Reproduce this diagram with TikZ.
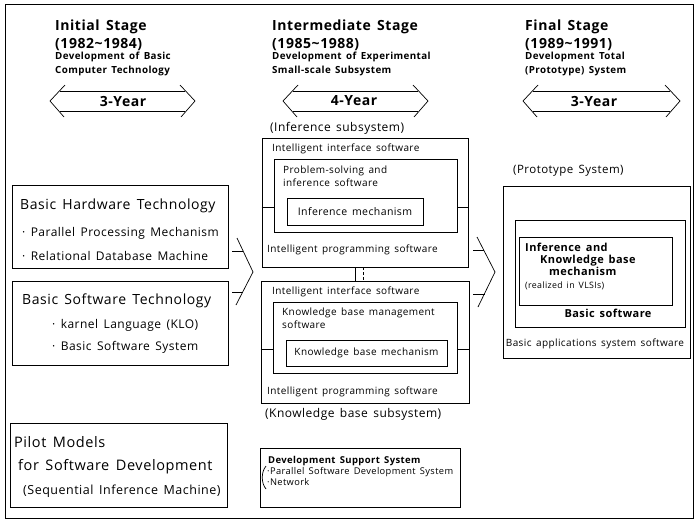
\documentclass[tikz,border=0pt]{standalone}
\usepackage{fontspec}
\setmainfont{Open Sans}[WordSpace=1.5, LetterSpace=4]
\usepackage{tikz}
\usetikzlibrary{fit}
\tikzset{box/.style={draw, line width=0.9pt, inner sep=0pt}}
\tikzset{thin line/.style={line width=0.7pt}}
\tikzset{txt/.style={anchor=base west, inner sep=0pt}}
\tikzset{ctxt/.style={anchor=base, inner sep=0pt}}
\newcommand{\fs}[1]{\fontsize{#1}{#1}\selectfont}
\newcommand{\yeararrow}[2]{%
	\draw[thin line] (#1+15,85) -- (#1,101) -- (#1+14,117);
	\draw[thin line] (#2-15,85) -- (#2,101) -- (#2-14,117);
	\draw[thin line] (#1+10,91) -- (#2-10,91);
	\draw[thin line] (#1+10,111) -- (#2-10,111);}

\begin{document}
\begin{tikzpicture}[x=1pt, y=-1pt]
	% Default action for each node
	\tikzstyle{stage}=[txt, font=\fs{14}\bfseries];
	\tikzstyle{stagesub}=[txt, font=\fs{9.8}\bfseries];
	\tikzstyle{year}=[anchor=center, inner sep=0pt, font=\fs{14}\bfseries];
	\tikzstyle{title}=[txt, font=\fs{14}];
	\tikzstyle{item}=[txt, font=\fs{12}];
	\tikzstyle{small}=[txt, font=\fs{10}];

	\useasboundingbox (0,0) rectangle (696,522);
	\draw[thin line] (5,4) rectangle (693,518);

	% STAGES
	\node[stage] (initial) at (55,30) {Initial Stage};
	\node[stage] (initialyr) at (55,48) {(1982\textasciitilde1984)};
	\node[stagesub] (initiala) at (55,59) {Development of Basic};
	\node[stagesub] (initialb) at (55,73) {Computer Technology};

	\node[stage] (inter) at (272,30) {Intermediate Stage};
	\node[stage] (interyr) at (272,48) {(1985\textasciitilde1988)};
	\node[stagesub] (intera) at (272,59) {Development of Experimental};
	\node[stagesub] (interb) at (272,73) {Small-scale Subsystem};

	\node[stage] (final) at (525,30) {Final Stage};
	\node[stage] (finalyr) at (525,48) {(1989\textasciitilde1991)};
	\node[stagesub] (finala) at (525,59) {Development Total};
	\node[stagesub] (finalb) at (525,73) {(Prototype) System};

	% year arrows
	\node[year] (yr1) at (123,101) {3-Year};
	\node[year] (yr2) at (354,101) {4-Year};
	\node[year] (yr3) at (594,101) {3-Year};
	\yeararrow{50}{195}
	\yeararrow{283}{428}
	\yeararrow{523}{680}

	% LEFT
	\node[box, fit={(12,185) (228,268)}] (hw) {};
	\node[title] (hwt) at (20,209) {Basic Hardware Technology};
	\node[item] (hw1) at (22,236) {· Parallel Processing Mechanism};
	\node[item] (hw2) at (22,260) {· Relational Database Machine};

	\node[box, fit={(12,281) (228,365)}] (sw) {};
	\node[title] (swt) at (22,304) {Basic Software Technology};
	\node[item] (sw1) at (52,328) {· karnel Language (KLO)};
	\node[item] (sw2) at (52,350) {· Basic Software System};

	\node[box, fit={(10,423) (227,507)}] (pilot) {};
	\node[title, font=\fs{14.5}] (pilota) at (14,447) {Pilot Models};
	\node[title, font=\fs{14.5}] (pilotb) at (18,470) {for Software Development};
	\node[item, font=\fs{12.5}] (pilotc) at (23,494) {(Sequential Inference Machine)};

	% MIDDLE
	\node[item] (inflabel) at (270,131) {(Inference subsystem)};
	\node[box, fit={(262,138) (468,267)}] (inf) {};
	\node[small] (infif) at (272,151) {Intelligent interface software};
	\node[box, fit={(274,159) (457,232)}] (infps) {};
	\node[small] (infpsa) at (283,173) {Problem-solving and};
	\node[small] (infpsb) at (283,186) {inference software};
	\node[box, fit={(287,198) (423,225)}] (infmech) {};
	\node[font=\fs{10.5}, inner sep=0pt] at (infmech) {Inference mechanism};
	\node[small] (infprog) at (267,252) {Intelligent programming software};

	\node[box, fit={(261,281) (469,403)}] (kb) {};
	\node[small] (kbif) at (272,294) {Intelligent interface software};
	\node[box, fit={(273,302) (457,373)}] (kbman) {};
	\node[small] (kbmana) at (282,315) {Knowledge base management};
	\node[small] (kbmanb) at (282,328) {software};
	\node[box, fit={(286,340) (447,366)}] (kbmech) {};
	\node[font=\fs{10}, inner sep=0pt] at (kbmech) {Knowledge base mechanism};
	\node[small] (kbprog) at (267,394) {Intelligent programming software};
	\node[item] (kblabel) at (265,417) {(Knowledge base subsystem)};

	\node[box, fit={(260,448) (460,507)}] (dev) {};
	\node[txt, font=\fs{9.5}\bfseries] (devt) at (268,463) {Development Support System};
	\node[txt, font=\fs{9.3}] (dev1) at (267,474) {·Parallel Software Development System};
	\node[txt, font=\fs{9.3}] (dev2) at (267,485) {·Network};
	\draw[thin line] (266,466) .. controls (261,472) and (261,483) .. (266,489);

	% RIGHT
	\node[item, font=\fs{11.5}] (protolabel) at (513,173) {(Prototype System)};
	\node[box, fit={(503,186) (690,358)}] (apps) {};
	\node[box, fit={(515,220) (685,327)}] (basicsw) {};
	\node[box, fit={(519,237) (672,305)}] (ikmech) {};
	\node[txt, font=\fs{11}\bfseries] (ika) at (525,251) {Inference and};
	\node[txt, font=\fs{11}\bfseries] (ikb) at (540,263) {Knowledge base};
	\node[txt, font=\fs{11}\bfseries] (ikc) at (549,275) {mechanism};
	\node[txt, font=\fs{8.8}] (ikd) at (525,288) {(realized in VLSIs)};
	\node[ctxt, font=\fs{11}\bfseries] (basicswt) at (608,317) {Basic software};
	\node[ctxt, font=\fs{10}] (appst) at (595,346) {Basic applications system software};

	% Connectors
	\draw[box] (inf.west |- 0,207) -- (infps.west |- 0,207);
	\draw[box] (infps.east |- 0,207) -- (inf.east |- 0,207);
	\draw[box] (kb.west |- 0,349) -- (kbman.west |- 0,349);
	\draw[box] (kbman.east |- 0,349) -- (kb.east |- 0,349);
	\draw[box] (inf.south -| 355,0) -- (kb.north -| 355,0);
	\draw[box, densely dashed] (inf.south -| 363,0) -- (kb.north -| 363,0);

	% Chevrons
	\draw[thin line] (237,238) -- (253,272) -- (236,305);
	\draw[thin line] (232,251) -- (243,251);
	\draw[thin line] (232,292) -- (243,292);
	\draw[thin line] (477,237) -- (495,272) -- (478,307);
	\draw[thin line] (473,250) -- (484,250);
	\draw[thin line] (473,294) -- (485,294);
\end{tikzpicture}
\end{document}
